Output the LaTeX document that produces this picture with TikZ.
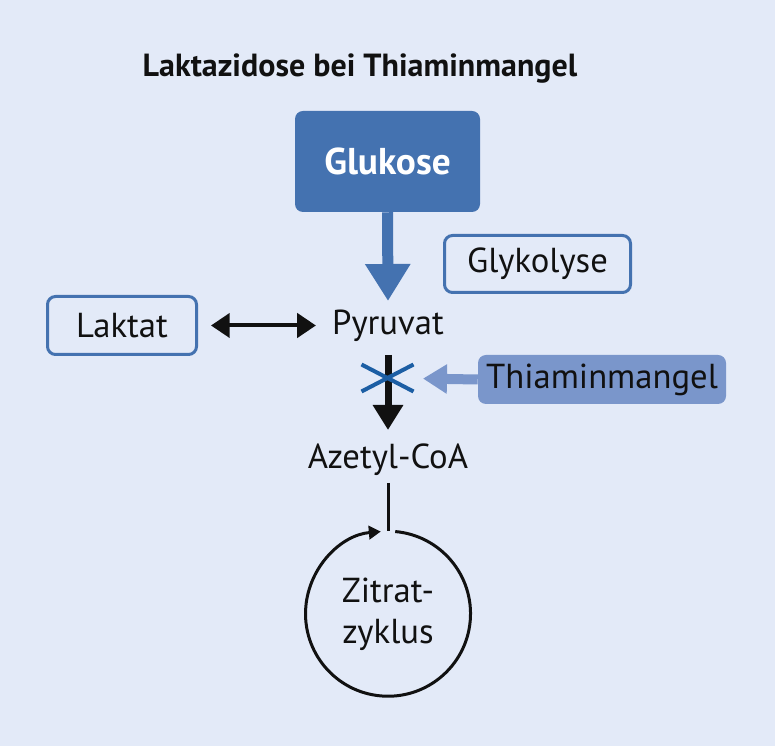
\documentclass[tikz,border=0pt]{standalone}
\usepackage{fontspec}
\setmainfont{PT Sans}
\usepackage{tikz}
\usetikzlibrary{arrows.meta, positioning, calc}
\definecolor{pagebg}{RGB}{227,234,248}
\definecolor{boxblue}{RGB}{68,114,176}
\definecolor{paleblue}{RGB}{122,150,203}
\definecolor{crossblue}{RGB}{28,94,164}
\definecolor{inkblack}{RGB}{17,17,17}

\begin{document}
\begin{tikzpicture}[x=0.75pt, y=0.75pt,
  txt/.style={font=\fontsize{26}{30.75}\selectfont, text=inkblack, inner sep=0pt},
  outlinebox/.style={txt, draw=boxblue, line width=2.25pt, rounded corners=6pt},
  blackarrow/.style={draw=inkblack, line width=5.25pt, -{Triangle[length=18.75pt, width=21.75pt]}}]

  % Background
  \fill[pagebg] (0,0) rectangle (775,746);

  % Title
  \node[txt, font=\fontsize{24}{28}\selectfont\bfseries, anchor=base] (title) at (360,669)
    {Laktazidose bei Thiaminmangel};

  % Boxes
  \node[txt, fill=boxblue, rounded corners=6pt, text=white, font=\fontsize{28}{32}\selectfont\bfseries,
        minimum width=138.75pt, minimum height=75.75pt] (glukose) at (387.5,584.5) {Glukose};
  \node[outlinebox, minimum width=139.5pt, minimum height=42.75pt] (glykolyse) at (537.5,482) {Glykolyse};
  \node[outlinebox, minimum width=111.75pt, minimum height=43.5pt] (laktat) at (122,420.5) {Laktat};
  \node[txt, fill=paleblue, rounded corners=6pt, minimum width=186pt, minimum height=36.75pt]
    (thiamin) at (602,366.5) {Thiaminmangel};

  % Metabolites
  \node[txt, anchor=base] (pyruvat) at (388,411) {Pyruvat};
  \node[txt, anchor=base] (azetyl) at (388,277) {Azetyl-CoA};
  \node[txt, circle, align=center, minimum size=123.75pt] (zyklus) at (388,132) {Zitrat-\\zyklus};

  % Glykolyse arrow
  \draw[boxblue, line width=8.25pt, -{Triangle[length=27.75pt, width=32.25pt]}]
    (glukose.south) -- ($(pyruvat.base)+(0,34)$);

  % Laktat <-> Pyruvat
  \draw[inkblack, line width=3pt, {Triangle[length=14pt, width=18pt]}-{Triangle[length=14pt, width=18pt]},
        shorten <=9.75pt, shorten >=12pt]
    (laktat.east) -- (laktat.east -| pyruvat.west);

  % Pyruvat -> Azetyl-CoA, blocked
  \draw[blackarrow] ($(pyruvat.base)+(0,-20)$) -- ($(azetyl.base)+(0,39)$);
  \coordinate (block) at (387.5,368);
  \draw[crossblue, line width=3pt] (block) +(-26,-13.5) -- +(26,13.5)
                                   (block) +(-26,13.5) -- +(26,-13.5);
  \draw[paleblue, line width=7.5pt, -{Triangle[length=18pt, width=21pt]}, shorten >=26.6pt]
    (thiamin.west) -- (block);

  % Zitratzyklus
  \draw[inkblack, line width=2.25pt] ($(azetyl.base)+(0,-14)$) -- (zyklus.north);
  \draw[inkblack, line width=2.25pt, -{Triangle[length=9pt, width=10pt]}]
    (zyklus.85) arc[start angle=85, end angle=-265, radius=61.875pt];
\end{tikzpicture}
\end{document}
